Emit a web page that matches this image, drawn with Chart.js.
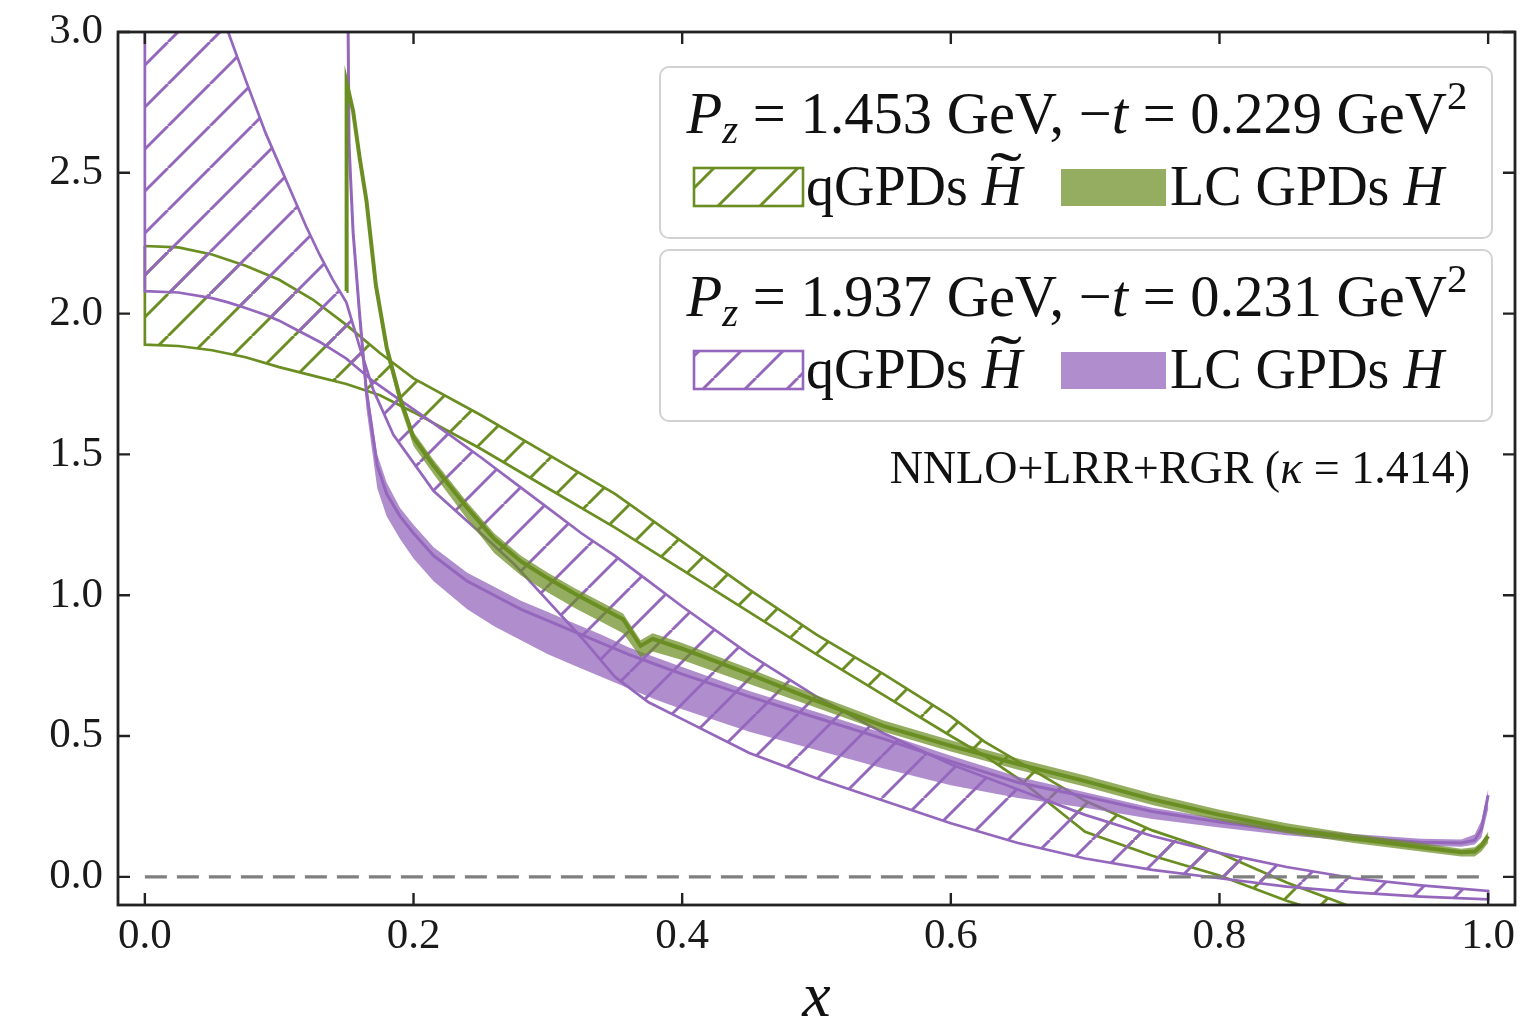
<!DOCTYPE html>
<html>
<head>
<meta charset="utf-8">
<script src="https://cdn.jsdelivr.net/npm/chart.js@4.4.1/dist/chart.umd.min.js"></script>
<style>
  html, body { margin: 0; padding: 0; background: #fff; }
  #wrap { width: 1536px; height: 1028px; }
</style>
</head>
<body>
<div id="wrap"><canvas id="c" width="1536" height="1028"></canvas></div>
<script>
// axes
const xTicks = [0, 0.2, 0.4, 0.6, 0.8, 1.0];
const xTickLabels = ['0.0', '0.2', '0.4', '0.6', '0.8', '1.0'];
const yTicks = [0, 0.5, 1.0, 1.5, 2.0, 2.5, 3.0];
const yTickLabels = ['0.0', '0.5', '1.0', '1.5', '2.0', '2.5', '3.0'];

// qGPDs H~ band, Pz = 1.453 GeV (green, hatched)
const qGreenX = [0, 0.025, 0.05, 0.075, 0.1, 0.125, 0.15, 0.175, 0.2, 0.25, 0.3, 0.35, 0.4, 0.45, 0.5, 0.55, 0.6, 0.625, 0.65, 0.7, 0.75, 0.8, 0.85, 0.9, 0.95, 1.0];
const qGreenUpper = [2.24, 2.235, 2.21, 2.17, 2.12, 2.05, 1.96, 1.86, 1.77, 1.64, 1.50, 1.36, 1.19, 1.02, 0.86, 0.72, 0.57, 0.48, 0.41, 0.27, 0.165, 0.085, -0.02, -0.11, -0.18, -0.22];
const qGreenLower = [1.89, 1.885, 1.87, 1.845, 1.81, 1.78, 1.75, 1.71, 1.65, 1.52, 1.38, 1.24, 1.09, 0.94, 0.79, 0.645, 0.50, 0.43, 0.35, 0.16, 0.075, 0.005, -0.085, -0.16, -0.21, -0.24];

// qGPDs H~ band, Pz = 1.937 GeV (purple, hatched) - the two edges cross near x=0.17
const qPurpleX = [0, 0.025, 0.05, 0.062, 0.075, 0.09, 0.1, 0.11, 0.12, 0.13, 0.14, 0.15, 0.16, 0.17, 0.185, 0.2, 0.215, 0.25, 0.275, 0.3, 0.325, 0.35, 0.375, 0.4, 0.45, 0.5, 0.55, 0.6, 0.65, 0.7, 0.75, 0.8, 0.85, 0.9, 0.95, 1.0];
const qPurpleA = [4.3, 3.6, 3.17, 3.0, 2.83, 2.64, 2.53, 2.42, 2.31, 2.21, 2.12, 2.04, 1.88, 1.73, 1.57, 1.47, 1.37, 1.22, 1.11, 0.98, 0.85, 0.71, 0.62, 0.56, 0.44, 0.35, 0.27, 0.19, 0.12, 0.065, 0.025, -0.005, -0.035, -0.055, -0.07, -0.08];
const qPurpleB = [2.08, 2.075, 2.055, 2.04, 2.02, 1.995, 1.975, 1.95, 1.925, 1.90, 1.87, 1.84, 1.80, 1.76, 1.71, 1.66, 1.61, 1.49, 1.40, 1.31, 1.22, 1.14, 1.05, 0.96, 0.79, 0.64, 0.51, 0.40, 0.31, 0.22, 0.145, 0.085, 0.035, -0.005, -0.03, -0.05];

// LC GPDs H, Pz = 1.453 GeV (green)
const lcGreenX = [0.15, 0.1502, 0.155, 0.16, 0.165, 0.172, 0.18, 0.19, 0.2, 0.215, 0.24, 0.26, 0.28, 0.3, 0.32, 0.34, 0.356, 0.369, 0.378, 0.4, 0.45, 0.5, 0.55, 0.6, 0.65, 0.7, 0.75, 0.8, 0.85, 0.9, 0.95, 0.98, 0.99, 0.995, 1.0];
const lcGreenMid = [2.08, 2.82, 2.72, 2.55, 2.40, 2.10, 1.88, 1.70, 1.56, 1.46, 1.31, 1.20, 1.12, 1.06, 1.005, 0.955, 0.915, 0.82, 0.845, 0.81, 0.72, 0.625, 0.535, 0.465, 0.40, 0.34, 0.275, 0.22, 0.172, 0.136, 0.105, 0.087, 0.09, 0.11, 0.145];
const lcGreenHi = [2.08, 2.83, 2.74, 2.57, 2.42, 2.12, 1.90, 1.72, 1.58, 1.48, 1.33, 1.22, 1.14, 1.08, 1.025, 0.975, 0.935, 0.84, 0.865, 0.83, 0.74, 0.645, 0.555, 0.485, 0.42, 0.36, 0.295, 0.238, 0.19, 0.152, 0.12, 0.10, 0.105, 0.125, 0.16];
const lcGreenLo = [2.08, 2.81, 2.70, 2.53, 2.38, 2.07, 1.85, 1.67, 1.53, 1.43, 1.27, 1.15, 1.07, 1.01, 0.955, 0.905, 0.865, 0.78, 0.80, 0.77, 0.685, 0.60, 0.515, 0.445, 0.38, 0.32, 0.255, 0.20, 0.155, 0.12, 0.09, 0.072, 0.072, 0.09, 0.12];

// LC GPDs H, Pz = 1.937 GeV (purple)
const lcPurpleX = [0.1505, 0.152, 0.155, 0.16, 0.165, 0.173, 0.18, 0.19, 0.2, 0.215, 0.24, 0.26, 0.28, 0.3, 0.32, 0.34, 0.36, 0.38, 0.4, 0.45, 0.5, 0.55, 0.6, 0.65, 0.7, 0.75, 0.8, 0.85, 0.9, 0.95, 0.98, 0.99, 0.995, 1.0];
const lcPurpleMid = [3.5, 2.6, 2.29, 1.99, 1.72, 1.46, 1.36, 1.28, 1.22, 1.14, 1.05, 1.00, 0.95, 0.91, 0.87, 0.83, 0.79, 0.755, 0.72, 0.64, 0.565, 0.49, 0.41, 0.335, 0.285, 0.232, 0.195, 0.163, 0.14, 0.123, 0.12, 0.13, 0.17, 0.29];
const lcPurpleHi = [3.5, 2.62, 2.31, 2.02, 1.76, 1.50, 1.40, 1.31, 1.25, 1.17, 1.08, 1.03, 0.98, 0.94, 0.90, 0.86, 0.815, 0.78, 0.745, 0.66, 0.585, 0.51, 0.43, 0.355, 0.30, 0.245, 0.207, 0.175, 0.152, 0.135, 0.133, 0.15, 0.20, 0.31];
const lcPurpleLo = [3.5, 2.56, 2.25, 1.94, 1.66, 1.38, 1.28, 1.20, 1.13, 1.05, 0.95, 0.89, 0.84, 0.79, 0.75, 0.71, 0.67, 0.63, 0.595, 0.515, 0.45, 0.385, 0.325, 0.28, 0.245, 0.205, 0.175, 0.148, 0.127, 0.11, 0.107, 0.115, 0.14, 0.24];

// dashed zero line
const zeroX = [0, 1];
const zeroY = [0, 0];

// legend text
const pzValues = ['1.453', '1.937'];
const tValues = ['0.229', '0.231'];
const noteText = ['NNLO+LRR+RGR (', '\u03BA', ' = 1.414)'];

const GREEN = '#6b8e23';
const PURPLE = '#9467bd';
const serif = '"Liberation Serif", "Times New Roman", serif';

const canvas = document.getElementById('c');
const ctx0 = canvas.getContext('2d');

function makeHatch(color) {
  const s = 42;
  const tile = document.createElement('canvas');
  tile.width = s; tile.height = s;
  const g = tile.getContext('2d');
  g.strokeStyle = color;
  g.lineWidth = 2.9;
  g.beginPath();
  for (const k of [-s, 0, s]) {
    g.moveTo(k, s);
    g.lineTo(k + s, 0);
  }
  g.stroke();
  return ctx0.createPattern(tile, 'repeat');
}
const greenHatch = makeHatch(GREEN);
const purpleHatch = makeHatch(PURPLE);

function pts(xs, ys) {
  return xs.map((x, i) => ({ x, y: ys[i] }));
}
// closed polygon: top edge left->right, bottom edge right->left
function band(xs, top, bottom) {
  const p = pts(xs, top);
  for (let i = xs.length - 1; i >= 0; i--) p.push({ x: xs[i], y: bottom[i] });
  p.push({ x: xs[0], y: top[0] });
  return p;
}

function font(px, italic) {
  return (italic ? 'italic ' : '') + px + 'px ' + serif;
}
function runsWidth(ctx, runs, size) {
  let w = 0;
  for (const r of runs) {
    ctx.font = font(size * (r.scale || 1), r.it);
    w += ctx.measureText(r.t).width;
  }
  return w;
}
function drawRuns(ctx, runs, x, y, size) {
  const pos = [];
  for (const r of runs) {
    ctx.font = font(size * (r.scale || 1), r.it);
    ctx.fillText(r.t, x, y + (r.dy || 0));
    const w = ctx.measureText(r.t).width;
    pos.push({ x, w });
    x += w;
  }
  return pos;
}

const decorPlugin = {
  id: 'decor',
  afterDraw(chart) {
    const { ctx, chartArea: a, scales: { x, y } } = chart;
    ctx.save();
    // inward ticks on all four sides
    ctx.strokeStyle = '#222';
    ctx.lineWidth = 2.4;
    const tl = 12;
    ctx.beginPath();
    for (const v of xTicks) {
      const px = x.getPixelForValue(v);
      ctx.moveTo(px, a.bottom); ctx.lineTo(px, a.bottom - tl);
      ctx.moveTo(px, a.top); ctx.lineTo(px, a.top + tl);
    }
    for (const v of yTicks) {
      const py = y.getPixelForValue(v);
      ctx.moveTo(a.left, py); ctx.lineTo(a.left + tl, py);
      ctx.moveTo(a.right, py); ctx.lineTo(a.right - tl, py);
    }
    ctx.stroke();
    // frame
    ctx.lineWidth = 2.8;
    ctx.strokeRect(a.left, a.top, a.right - a.left, a.bottom - a.top);

    // legend boxes
    const colors = [GREEN, PURPLE];
    const fills = ['rgba(107,142,35,0.72)', 'rgba(148,103,189,0.74)'];
    const hatches = [greenHatch, purpleHatch];
    const size = 58.5;
    ctx.textBaseline = 'alphabetic';
    ctx.textAlign = 'left';
    for (let i = 0; i < 2; i++) {
      const dy = i * 183;
      ctx.beginPath();
      ctx.roundRect(660, 67 + dy, 832, 171, 9);
      ctx.fillStyle = 'rgba(255,255,255,0.85)';
      ctx.fill();
      ctx.strokeStyle = '#d2d2d2';
      ctx.lineWidth = 2;
      ctx.stroke();

      ctx.fillStyle = '#111';
      const title = [
        { t: 'P', it: true },
        { t: 'z', it: true, scale: 0.7, dy: 10 },
        { t: ' = ' + pzValues[i] + ' GeV, ' },
        { t: '\u2212' },
        { t: 't', it: true },
        { t: ' = ' + tValues[i] + ' GeV' },
        { t: '2', scale: 0.7, dy: -24 }
      ];
      const tw = runsWidth(ctx, title, size);
      drawRuns(ctx, title, 1077 - tw / 2, 133 + dy, size);

      // hatched swatch
      ctx.fillStyle = hatches[i];
      ctx.fillRect(694, 168 + dy, 109, 38);
      ctx.strokeStyle = colors[i];
      ctx.lineWidth = 2.6;
      ctx.strokeRect(694, 168 + dy, 109, 38);
      ctx.fillStyle = '#111';
      const p1 = drawRuns(ctx, [{ t: 'qGPDs ' }, { t: 'H', it: true }], 806, 205 + dy, 56);
      // wide tilde over H
      ctx.save();
      ctx.font = font(64, false);
      ctx.textAlign = 'center';
      ctx.translate(p1[1].x + p1[1].w / 2 + 4, 196 + dy);
      ctx.scale(1.5, 1);
      ctx.fillText('\u02DC', 0, 0);
      ctx.restore();

      // solid swatch
      ctx.fillStyle = fills[i];
      ctx.fillRect(1061, 169 + dy, 105, 37);
      ctx.fillStyle = '#111';
      drawRuns(ctx, [{ t: 'LC GPDs ' }, { t: 'H', it: true }], 1170, 205 + dy, 56);
    }

    // method note
    const note = [{ t: noteText[0] }, { t: noteText[1], it: true }, { t: noteText[2] }];
    const nw = runsWidth(ctx, note, 46);
    ctx.fillStyle = '#111';
    drawRuns(ctx, note, 1470 - nw, 483, 46);
    ctx.restore();
  }
};

const common = { pointRadius: 0, tension: 0, clip: 0 };

new Chart(canvas, {
  type: 'line',
  data: {
    datasets: [
      Object.assign({ data: pts(zeroX, zeroY), borderColor: '#7f7f7f', borderWidth: 3.2, borderDash: [22, 10], fill: false, order: 0 }, common),
      Object.assign({ data: pts(lcGreenX, lcGreenMid), borderColor: GREEN, borderWidth: 4, fill: false, order: 1 }, common),
      Object.assign({ data: band(lcGreenX, lcGreenHi, lcGreenLo), borderWidth: 0, borderColor: 'rgba(0,0,0,0)', backgroundColor: 'rgba(107,142,35,0.72)', fill: 'shape', order: 2 }, common),
      Object.assign({ data: pts(lcPurpleX, lcPurpleMid), borderColor: PURPLE, borderWidth: 3, fill: false, order: 3 }, common),
      Object.assign({ data: band(lcPurpleX, lcPurpleHi, lcPurpleLo), borderWidth: 0, borderColor: 'rgba(0,0,0,0)', backgroundColor: 'rgba(148,103,189,0.74)', fill: 'shape', order: 4 }, common),
      Object.assign({ data: band(qPurpleX, qPurpleA, qPurpleB), borderColor: PURPLE, borderWidth: 2.7, backgroundColor: purpleHatch, fill: 'shape', order: 5 }, common),
      Object.assign({ data: band(qGreenX, qGreenUpper, qGreenLower), borderColor: GREEN, borderWidth: 2.7, backgroundColor: greenHatch, fill: 'shape', order: 6 }, common)
    ]
  },
  options: {
    responsive: false,
    animation: false,
    devicePixelRatio: 1,
    events: [],
    layout: { padding: { top: 32, right: 21, left: 0, bottom: 0 } },
    plugins: { legend: { display: false }, tooltip: { enabled: false } },
    scales: {
      x: {
        type: 'linear',
        min: -0.02,
        max: 1.02,
        grid: { display: false, drawTicks: false },
        border: { display: false },
        afterBuildTicks: (s) => { s.ticks = xTicks.map(v => ({ value: v })); },
        afterFit: (s) => { s.height = 123; s.paddingLeft = 0; s.paddingRight = 0; },
        ticks: {
          autoSkip: false,
          maxRotation: 0,
          padding: 6,
          color: '#1a1a1a',
          font: { family: serif, size: 43 },
          callback: (v, i) => xTickLabels[i]
        },
        title: {
          display: true,
          text: 'x',
          color: '#111',
          padding: { top: 0, bottom: -3 },
          font: { family: serif, size: 64, style: 'italic', lineHeight: 1 }
        }
      },
      y: {
        type: 'linear',
        min: -0.1,
        max: 3.0,
        grid: { display: false, drawTicks: false },
        border: { display: false },
        afterBuildTicks: (s) => { s.ticks = yTicks.map(v => ({ value: v })); },
        afterFit: (s) => { s.width = 118; s.paddingTop = 0; s.paddingBottom = 0; },
        ticks: {
          padding: 15,
          color: '#1a1a1a',
          font: { family: serif, size: 43 },
          callback: (v, i) => yTickLabels[i]
        }
      }
    }
  },
  plugins: [decorPlugin]
});
</script>
</body>
</html>
